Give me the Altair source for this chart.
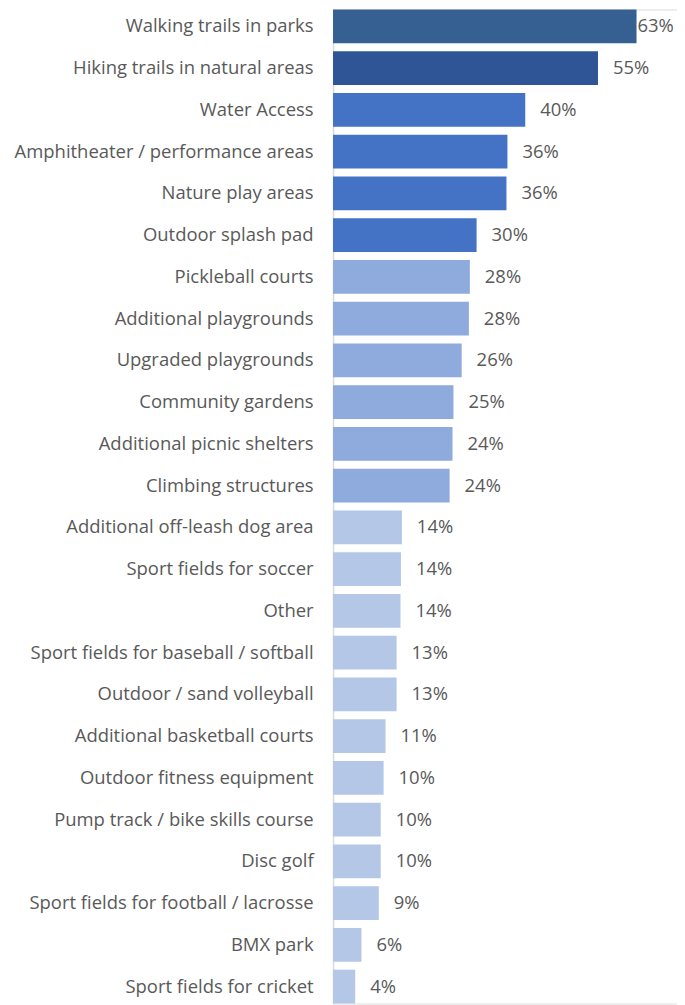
import altair as alt
import pandas as pd

categories = [
    "Walking trails in parks", "Hiking trails in natural areas", "Water Access",
    "Amphitheater / performance areas", "Nature play areas", "Outdoor splash pad",
    "Pickleball courts", "Additional playgrounds", "Upgraded playgrounds",
    "Community gardens", "Additional picnic shelters", "Climbing structures",
    "Additional off-leash dog area", "Sport fields for soccer", "Other",
    "Sport fields for baseball / softball", "Outdoor / sand volleyball",
    "Additional basketball courts", "Outdoor fitness equipment",
    "Pump track / bike skills course", "Disc golf",
    "Sport fields for football / lacrosse", "BMX park", "Sport fields for cricket",
]
values = [63.0, 55.0, 39.9, 36.2, 36.0, 29.8, 28.4, 28.2, 26.7, 25.0, 24.8, 24.2,
          14.3, 14.1, 14.0, 13.2, 13.2, 10.9, 10.5, 9.9, 9.9, 9.5, 5.9, 4.6]
labels = ["63%", "55%", "40%", "36%", "36%", "30%", "28%", "28%", "26%", "25%", "24%", "24%",
          "14%", "14%", "14%", "13%", "13%", "11%", "10%", "10%", "10%", "9%", "6%", "4%"]
tiers = ["t1", "t2", "t3", "t3", "t3", "t3", "t4", "t4", "t4", "t4", "t4", "t4",
         "t5", "t5", "t5", "t5", "t5", "t5", "t5", "t5", "t5", "t5", "t5", "t5"]
tier_names = ["t1", "t2", "t3", "t4", "t5"]
tier_colors = ["#376092", "#2F5597", "#4472C4", "#8FAADC", "#B4C7E7"]

df = pd.DataFrame({"cat": categories, "val": values, "lab": labels, "tier": tiers})

FONT = "Open Sans"
FS = 18.5

y = alt.Y("cat:N", sort=categories, title=None,
          scale=alt.Scale(paddingInner=0.19, paddingOuter=0.0),
          axis=alt.Axis(labelFont=FONT, labelFontSize=FS, labelColor="#595959",
                        labelPadding=20, labelLimit=400, ticks=False,
                        domainColor="#D9D9D9", domainWidth=1.5, grid=False))
x = alt.X("val:Q", title=None, scale=alt.Scale(domain=[0, 71.4], nice=False), axis=None)

base = alt.Chart(df)
bars = base.mark_bar().encode(
    x=x, y=y,
    color=alt.Color("tier:N", scale=alt.Scale(domain=tier_names, range=tier_colors), legend=None),
)
text_main = base.transform_filter("datum.val < 60").mark_text(
    align="left", baseline="middle", dx=15, font=FONT, fontSize=FS, color="#595959"
).encode(x=x, y=alt.Y("cat:N", sort=categories), text="lab:N")
text_top = base.transform_filter("datum.val >= 60").mark_text(
    align="left", baseline="middle", dx=1, font=FONT, fontSize=FS, color="#595959"
).encode(x=x, y=alt.Y("cat:N", sort=categories), text="lab:N")

chart = alt.layer(bars, text_main, text_top).properties(
    width=345, height=997,
    autosize=alt.AutoSizeParams(type="none"),
    padding={"left": 326, "top": 0, "right": 0, "bottom": 0},
).configure_view(stroke=None).configure(background="white")

chart.save("out.html", embed_options={"renderer": "svg", "actions": False})
